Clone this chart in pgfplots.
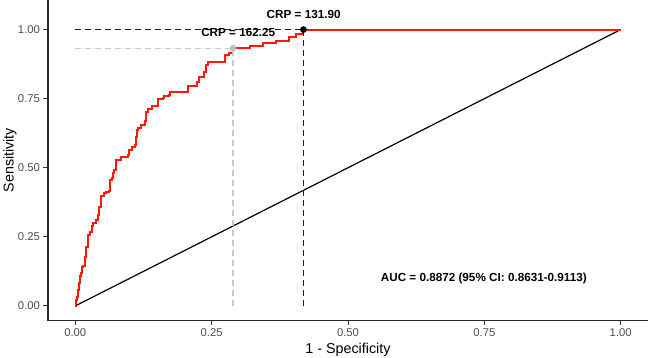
\documentclass[border=0pt]{standalone}
\usepackage{fontspec}
\setmainfont{Liberation Sans}
\usepackage{pgfplots}
\pgfplotsset{compat=1.18}
\definecolor{ticklab}{HTML}{4D4D4D}
\definecolor{roc}{HTML}{FF1A0A}
\definecolor{lgray}{HTML}{C8C8C8}
\definecolor{dgray}{HTML}{BEBEBE}
\definecolor{dkline}{HTML}{222222}
\begin{document}
\begin{tikzpicture}
\begin{axis}[
  scale only axis, width=600bp, height=320.5bp,
  xmin=-0.05, xmax=1.05, ymin=-0.0527, ymax=1.107,
  axis x line*=bottom, axis y line*=left,
  axis line style={line width=1.2bp, black!85, -},
  xtick={0,0.25,0.5,0.75,1}, ytick={0,0.25,0.5,0.75,1},
  xticklabels={0.00,0.25,0.50,0.75,1.00},
  yticklabels={0.00,0.25,0.50,0.75,1.00},
  tick align=outside, major tick length=4.5bp,
  tick style={line width=0.9bp, black!80},
  ticklabel style={font=\fontsize{11.3bp}{13bp}\selectfont, text=ticklab},
  every axis x label/.style={at={(axis description cs:0.5,-0.0899)}, anchor=center},
  every axis y label/.style={at={(axis description cs:-0.0633,0.5)}, rotate=90, anchor=center},
  label style={font=\fontsize{14.3bp}{16bp}\selectfont},
  xlabel={1 - Specificity}, ylabel={Sensitivity},
  clip=false,
]
\addplot[black, line width=1.2bp] coordinates {(0,0) (1,1)};
\addplot[draw=roc, line width=2bp, line join=miter, const plot mark left, mark=none] coordinates {
(0,0) (0.0009,0.0109) (0.0022,0.0217) (0.0033,0.0337) (0.0051,0.058) (0.0069,0.0833)
(0.0082,0.1087) (0.0101,0.1196) (0.0124,0.1413) (0.0137,0.1449) (0.0174,0.1775)
(0.0205,0.2138) (0.0234,0.2572) (0.0265,0.2681) (0.0314,0.2899) (0.0325,0.2996)
(0.0388,0.3116) (0.0417,0.3297) (0.0435,0.3587) (0.0479,0.396) (0.0521,0.4083)
(0.0558,0.4105) (0.0618,0.4141) (0.0631,0.4348) (0.0644,0.4565) (0.068,0.4638)
(0.0691,0.4819) (0.0709,0.4928) (0.074,0.5036) (0.0753,0.529) (0.0845,0.5399)
(0.0965,0.5471) (0.0984,0.5652) (0.1046,0.5761) (0.1088,0.5833) (0.1119,0.6123)
(0.1133,0.6377) (0.1148,0.6449) (0.121,0.6558) (0.1271,0.6678) (0.1289,0.7029)
(0.1331,0.7138) (0.1411,0.7246) (0.1514,0.75) (0.1605,0.7536) (0.1623,0.7609)
(0.1715,0.7645) (0.1728,0.7754) (0.2062,0.7971) (0.2234,0.8116) (0.2276,0.8297)
(0.2355,0.8478) (0.2399,0.8732) (0.2428,0.8841) (0.2746,0.9094) (0.2824,0.9167)
(0.2892,0.9322) (0.3208,0.942) (0.3433,0.9518) (0.3678,0.9601) (0.3921,0.9721)
(0.4049,0.983) (0.4183,1) (1,1)
};
\addplot[lgray, line width=1.1bp, dash pattern=on 6bp off 4bp] coordinates {(0,0.9322) (0.2892,0.9322)};
\addplot[lgray, line width=1.1bp, dash pattern=on 6bp off 4bp] coordinates {(0.2892,0) (0.2892,0.9322)};
\addplot[dkline, line width=1.1bp, dash pattern=on 6bp off 4bp] coordinates {(0,1) (0.4183,1)};
\addplot[dkline, line width=1.1bp, dash pattern=on 6bp off 4bp] coordinates {(0.4183,0) (0.4183,1)};
\addplot[only marks, mark=*, mark size=3.1bp, mark options={draw=dgray, fill=dgray, solid}] coordinates {(0.2892,0.9322)};
\addplot[only marks, mark=*, mark size=3.1bp, mark options={draw=black, fill=black, solid}] coordinates {(0.4183,1)};
\node[font=\bfseries\fontsize{11.7bp}{13bp}\selectfont] at (axis cs:0.4187,1.054) {CRP = 131.90};
\node[font=\bfseries\fontsize{11.7bp}{13bp}\selectfont] at (axis cs:0.2987,0.989) {CRP = 162.25};
\node[font=\bfseries\fontsize{11.7bp}{13bp}\selectfont] at (axis cs:0.749,0.098) {AUC = 0.8872 (95\% CI: 0.8631-0.9113)};
\end{axis}
\pgfresetboundingbox
\path (-48bp,-37.5bp) rectangle (600bp,320.5bp);
\end{tikzpicture}
\end{document}
